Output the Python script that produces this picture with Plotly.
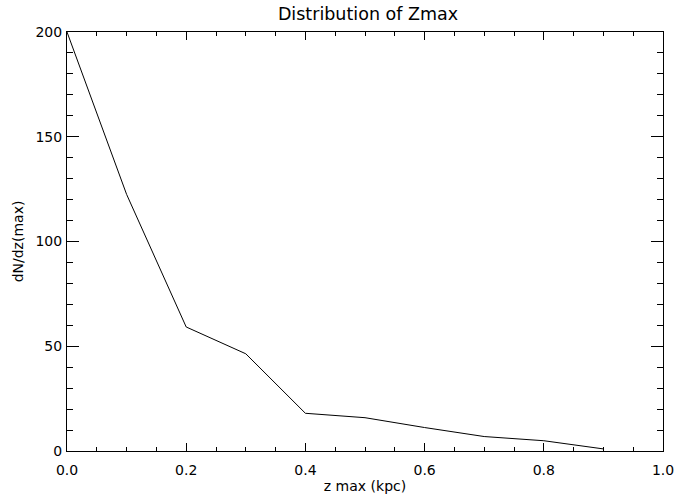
import plotly.graph_objects as go

zmax = [0.0, 0.1, 0.2, 0.3, 0.4, 0.5, 0.6, 0.7, 0.8, 0.9]
dndz = [200.0, 122.5, 59.2, 46.4, 18.0, 15.9, 11.2, 6.9, 4.9, 1.0]

x_tickvals = [0.0, 0.2, 0.4, 0.6, 0.8, 1.0]
x_ticktext = ["0.0", "0.2", "0.4", "0.6", "0.8", "1.0"]
y_tickvals = [0, 50, 100, 150, 200]
y_ticktext = ["0", "50", "100", "150", "200"]

FONT = "DejaVu Sans"

fig = go.Figure()
fig.add_trace(go.Scatter(x=zmax, y=dndz, mode="lines",
                         line=dict(color="black", width=1), showlegend=False))

fig.update_layout(
    width=675, height=496,
    margin=dict(l=67, r=12, t=32, b=45, autoexpand=False),
    paper_bgcolor="white", plot_bgcolor="white",
    font=dict(family=FONT, size=14, color="black"),
    title=dict(text="Distribution of Zmax", x=368 / 675, xanchor="center",
               y=1 - 14 / 496, yanchor="middle", automargin=False,
               font=dict(family=FONT, size=17.5, color="black")),
)

fig.update_xaxes(
    range=[0, 1], showgrid=False, zeroline=False, automargin=False,
    showline=True, linecolor="black", linewidth=1, mirror="allticks",
    ticks="inside", ticklen=8, tickwidth=1, tickcolor="black",
    tickvals=x_tickvals, ticktext=x_ticktext, ticklabelstandoff=6,
    minor=dict(ticks="inside", ticklen=4, dtick=0.05, tick0=0, tickcolor="black", tickwidth=1, showgrid=False),
    title=dict(text="z max (kpc)", standoff=4, font=dict(size=14)),
    tickfont=dict(size=14),
)
fig.update_yaxes(
    range=[0, 200], showgrid=False, zeroline=False, automargin=False,
    showline=True, linecolor="black", linewidth=1, mirror="allticks",
    ticks="inside", ticklen=12, tickwidth=1, tickcolor="black",
    tickvals=y_tickvals, ticktext=y_ticktext, ticklabelstandoff=1,
    minor=dict(ticks="inside", ticklen=6, dtick=10, tick0=0, tickcolor="black", tickwidth=1, showgrid=False),
    title=dict(text="dN/dz(max)", standoff=8, font=dict(size=14)),
    tickfont=dict(size=14),
)

fig.write_html("out.html")
